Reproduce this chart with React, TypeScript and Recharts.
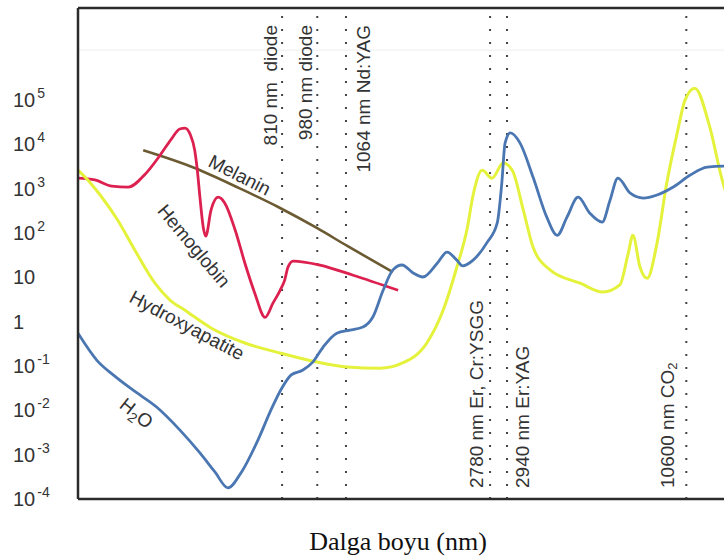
import React from "react";
import { LineChart, Line, XAxis, YAxis, ReferenceLine, ReferenceDot } from "recharts";

// x: relative position along the (schematic) wavelength axis, 0–100
// y: log10 of the absorption coefficient
const Y_TICKS = [-4, -3, -2, -1, 0, 1, 2, 3, 4, 5];
const Y_MIN = -4;
const Y_MAX = 7.08;

const H2O_X = [0, 2.9, 5.4, 8.4, 12.1, 15.6, 18.7, 21.0, 23.0, 25.0, 27.6, 29.6, 31.1, 32.7, 34.5, 36.0, 37.6, 39.7, 41.7, 43.7, 45.2, 46.8, 48.3, 49.7, 51.4, 52.9, 55.1, 56.6, 58.1, 59.0, 60.6, 62.7, 64.3, 65.0, 65.5, 66.3, 67.8, 69.8, 71.9, 73.5, 75.0, 76.7, 78.5, 80.4, 81.6, 82.8, 84.7, 86.7, 88.8, 91.3, 93.9, 96.5, 98.9, 100];
const H2O_LOG = [-0.26, -0.87, -1.2, -1.54, -1.93, -2.44, -2.96, -3.39, -3.75, -3.41, -2.67, -1.99, -1.54, -1.2, -1.09, -0.91, -0.57, -0.26, -0.19, -0.12, 0.1, 0.71, 1.17, 1.28, 1.1, 1.01, 1.32, 1.57, 1.39, 1.26, 1.39, 1.78, 2.23, 3.13, 4.03, 4.26, 4.03, 3.26, 2.36, 1.95, 2.36, 2.81, 2.45, 2.25, 2.74, 3.24, 2.9, 2.79, 2.86, 3.04, 3.31, 3.49, 3.51, 3.51];

const HA_X = [0, 1.8, 3.4, 6.1, 8.7, 11.8, 14.1, 16.4, 20.4, 25.6, 31.1, 36.7, 41.3, 46.3, 49.8, 53.5, 56.0, 58.1, 59.7, 60.6, 62.0, 63.5, 65.2, 66.6, 68.3, 69.8, 72.4, 77.0, 80.5, 83.1, 84.4, 85.1, 86.2, 87.3, 88.8, 90.3, 91.9, 93.1, 94.6, 96.9, 98.8, 100];
const HA_LOG = [3.42, 3.15, 2.86, 2.29, 1.62, 0.87, 0.49, 0.26, -0.14, -0.48, -0.71, -0.91, -1.02, -1.05, -0.93, -0.48, 0.26, 1.23, 2.11, 2.86, 3.42, 3.24, 3.58, 3.42, 2.52, 1.68, 1.17, 0.87, 0.67, 0.83, 1.55, 1.95, 1.23, 0.98, 1.77, 3.13, 4.26, 5.0, 5.27, 4.39, 3.2, 2.63];

const HB_X = [0, 2.6, 5.2, 7.7, 10.3, 12.6, 14.4, 15.6, 16.4, 17.2, 17.9, 18.3, 18.7, 19.2, 19.6, 20.4, 21.5, 22.5, 24.1, 25.6, 27.1, 28.7, 29.9, 31.0, 31.7, 32.2, 33.0, 37.1, 42.2, 49.1];
const HB_LOG = [3.24, 3.2, 3.06, 3.04, 3.33, 3.76, 4.14, 4.35, 4.37, 4.23, 3.87, 3.42, 2.81, 2.14, 1.93, 2.52, 2.81, 2.68, 2.07, 1.32, 0.65, 0.1, 0.42, 0.71, 0.94, 1.23, 1.37, 1.28, 1.05, 0.71];

const MEL_X = [10.0, 17.9, 24.8, 30.7, 36.7, 41.3, 48.3];
const MEL_LOG = [3.87, 3.47, 3.01, 2.59, 2.11, 1.71, 1.12];

const LASER_NAMES = ["810 nm  diode", "980 nm diode", "1064 nm Nd:YAG", "2780 nm Er, Cr:YSGG", "2940 nm Er:YAG", "10600 nm CO"];
const LASER_SUB = ["", "", "", "", "", "2"];
const LASER_POS = [31.3, 36.7, 41.1, 63.2, 65.8, 93.3];

const CURVE_NAMES = ["Melanin", "Hemoglobin", "Hydroxyapatite", "H"];
const CURVE_LABEL_X = [24.8, 17.8, 16.7, 9.0];
const CURVE_LABEL_Y = [3.31, 1.71, -0.08, -2.06];

const X_LABEL = "Dalga boyu (nm)";

// label styling (kept apart from the data)
const LASER_DX = [-12, -12, 18, -14, 15, -19];
const LASER_FROM_TOP = [true, true, true, false, false, false];
const CURVE_ANGLE = [27, 50, 28, 38];

const SANS = "'Liberation Sans', Arial, sans-serif";
const INK = "#333";

const toPoints = (xs: number[], ys: number[]) => xs.map((x, i) => ({ x, y: ys[i] }));

const h2o = toPoints(H2O_X, H2O_LOG);
const hydroxy = toPoints(HA_X, HA_LOG);
const hemo = toPoints(HB_X, HB_LOG);
const melanin = toPoints(MEL_X, MEL_LOG);

function YTick(props: any) {
  const { y, payload } = props;
  const v = payload.value;
  const base = v === 0 ? "1" : "10";
  const exp = v === 0 || v === 1 ? "" : String(v);
  return (
    <text x={13} y={y + 7} fill={INK} fontSize={20} fontFamily={SANS}>
      {base}
      {exp && (
        <tspan dx={2} dy={-9} fontSize={14}>
          {exp}
        </tspan>
      )}
    </text>
  );
}

const laserLabel = (i: number) => (props: any) => {
  const vb = props.viewBox;
  const x = vb.x + LASER_DX[i];
  const y = LASER_FROM_TOP[i] ? vb.y + 17 : vb.y + vb.height - 11;
  return (
    <text
      x={x}
      y={y}
      transform={`rotate(-90 ${x} ${y})`}
      textAnchor={LASER_FROM_TOP[i] ? "end" : "start"}
      dominantBaseline="central"
      fill={INK}
      fontSize={19}
      fontFamily={SANS}
      style={{ whiteSpace: "pre" }}
    >
      {LASER_NAMES[i]}
      {LASER_SUB[i] && (
        <tspan dy={5} fontSize={13}>
          {LASER_SUB[i]}
        </tspan>
      )}
    </text>
  );
};

const curveLabel = (i: number) => (props: any) => {
  const vb = props.viewBox;
  const cx = vb.x + vb.width / 2;
  const cy = vb.y + vb.height / 2;
  return (
    <text
      x={cx}
      y={cy}
      transform={`rotate(${CURVE_ANGLE[i]} ${cx} ${cy})`}
      textAnchor="middle"
      dominantBaseline="central"
      fill={INK}
      fontSize={19}
      fontFamily={SANS}
    >
      {CURVE_NAMES[i]}
      {CURVE_NAMES[i] === "H" && (
        <>
          <tspan dy={6} fontSize={14}>2</tspan>
          <tspan dy={-6}>O</tspan>
        </>
      )}
    </text>
  );
};

const xLabel = (props: any) => {
  const vb = props.viewBox;
  return (
    <text
      x={vb.x + vb.width / 2 - 6}
      y={vb.y + 51}
      textAnchor="middle"
      fill="#111"
      fontSize={26}
      fontFamily="'Liberation Serif', 'Times New Roman', serif"
    >
      {X_LABEL}
    </text>
  );
};

export default function App() {
  const axisStroke = { stroke: "#2b2b2b", strokeWidth: 2.5 };
  return (
    <div style={{ position: "fixed", left: 0, top: 0, width: 724, height: 557, overflow: "hidden", background: "#fff" }}>
      <LineChart width={740} height={557} margin={{ top: 8, right: 10, bottom: 8, left: 8 }}>
        <XAxis
          type="number"
          dataKey="x"
          domain={[0, 100]}
          allowDataOverflow
          tick={false}
          tickLine={false}
          axisLine={axisStroke}
          height={50}
          label={xLabel}
        />
        <YAxis
          type="number"
          domain={[Y_MIN, Y_MAX]}
          ticks={Y_TICKS}
          allowDataOverflow
          width={70}
          tickLine={false}
          axisLine={axisStroke}
          tick={<YTick />}
        />
        <ReferenceLine y={Y_MAX} stroke="#2b2b2b" strokeWidth={2.5} />
        <ReferenceLine y={6.13} stroke="#eeeeee" strokeWidth={1} />
        {LASER_POS.map((p, i) => (
          <ReferenceLine
            key={LASER_NAMES[i]}
            x={p}
            stroke="#444"
            strokeWidth={2}
            strokeDasharray="2 11"
            label={laserLabel(i)}
          />
        ))}
        <Line data={melanin} dataKey="y" type="monotone" stroke="#6b5a32" strokeWidth={2.6} dot={false} isAnimationActive={false} />
        <Line data={hemo} dataKey="y" type="monotone" stroke="#dc2150" strokeWidth={2.8} dot={false} isAnimationActive={false} />
        <Line data={hydroxy} dataKey="y" type="monotone" stroke="#e4f23c" strokeWidth={3} dot={false} isAnimationActive={false} />
        <Line data={h2o} dataKey="y" type="monotone" stroke="#4a76b2" strokeWidth={2.8} dot={false} isAnimationActive={false} />
        {CURVE_NAMES.map((n, i) => (
          <ReferenceDot
            key={n}
            x={CURVE_LABEL_X[i]}
            y={CURVE_LABEL_Y[i]}
            r={1}
            fill="none"
            stroke="none"
            label={curveLabel(i)}
          />
        ))}
      </LineChart>
    </div>
  );
}
